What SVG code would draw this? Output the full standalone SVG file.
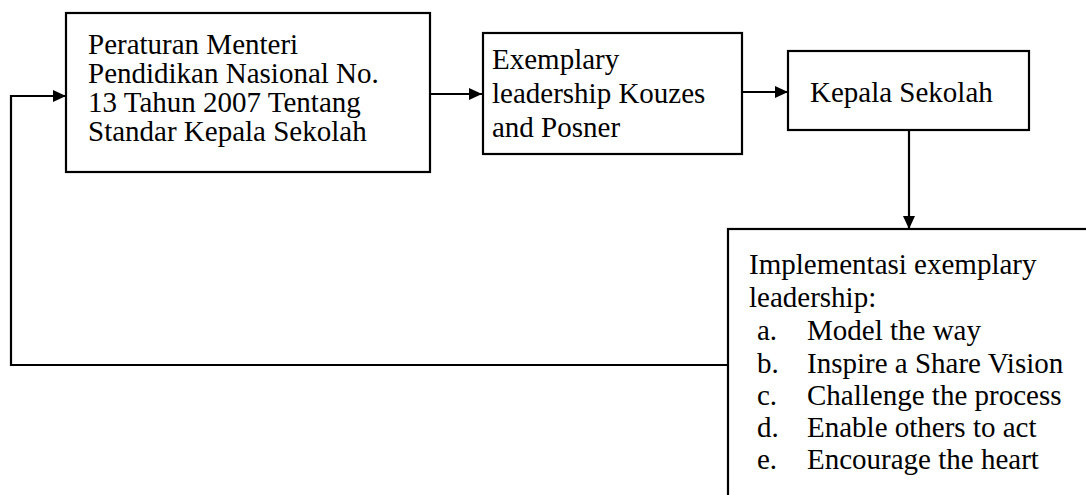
<svg xmlns="http://www.w3.org/2000/svg" width="1086" height="495" viewBox="0 0 1086 495">
<style>
.box{fill:#fff;stroke:#000;stroke-width:2.2}
.t{font-family:"Liberation Serif","Times New Roman","DejaVu Serif",serif;font-size:29px;fill:#000}
.c{fill:none;stroke:#000;stroke-width:2.2}
</style>
<defs>
<marker id="ah" viewBox="0 0 13 12" refX="13" refY="6" markerWidth="13" markerHeight="12" markerUnits="userSpaceOnUse" orient="auto">
<path d="M0,0 L13,6 L0,12 Z" fill="#000"/>
</marker>
</defs>
<rect width="1086" height="495" fill="#fff"/>
<g id="connectors">
<path class="c" d="M430,94 H482" marker-end="url(#ah)"/>
<path class="c" d="M742,92 H788" marker-end="url(#ah)"/>
<path class="c" d="M909,130 V229" marker-end="url(#ah)"/>
<path class="c" d="M728,365 H11 V96 H66" marker-end="url(#ah)"/>
</g>
<g id="node1">
<rect class="box" x="66" y="13" width="364" height="159"/>
<text class="t" x="88" y="54">Peraturan Menteri</text>
<text class="t" x="88" y="83">Pendidikan Nasional No.</text>
<text class="t" x="88" y="112">13 Tahun 2007 Tentang</text>
<text class="t" x="88" y="141">Standar Kepala Sekolah</text>
</g>
<g id="node2">
<rect class="box" x="483" y="33" width="259" height="121"/>
<text class="t" x="492" y="69">Exemplary</text>
<text class="t" x="492" y="103">leadership Kouzes</text>
<text class="t" x="492" y="137">and Posner</text>
</g>
<g id="node3">
<rect class="box" x="788" y="51" width="241" height="79"/>
<text class="t" x="810" y="102">Kepala Sekolah</text>
</g>
<g id="node4">
<rect class="box" x="728" y="229" width="400" height="300"/>
<text class="t" x="749" y="274">Implementasi exemplary</text>
<text class="t" x="749" y="307">leadership:</text>
<text class="t" x="757" y="340">a.</text><text class="t" x="807" y="340">Model the way</text>
<text class="t" x="757" y="373">b.</text><text class="t" x="807" y="373">Inspire a Share Vision</text>
<text class="t" x="757" y="405">c.</text><text class="t" x="807" y="405">Challenge the process</text>
<text class="t" x="757" y="437">d.</text><text class="t" x="807" y="437">Enable others to act</text>
<text class="t" x="757" y="469">e.</text><text class="t" x="807" y="469">Encourage the heart</text>
</g>
</svg>
